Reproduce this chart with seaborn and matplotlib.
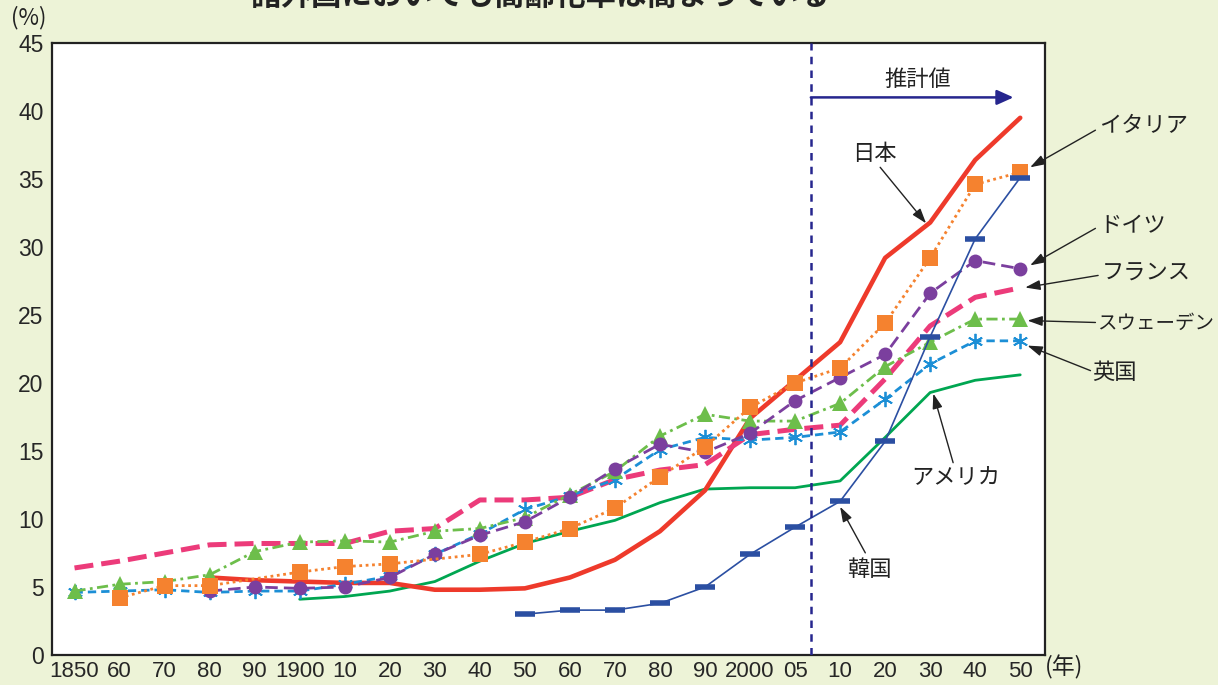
import matplotlib
matplotlib.use("Agg")
import matplotlib.pyplot as plt
import seaborn as sns
import numpy as np

sns.set_style("white")
plt.rcParams["font.family"] = ["Liberation Sans", "Noto Sans CJK JP", "DejaVu Sans"]

# 年次（横軸の区分）
years = ["1850", "60", "70", "80", "90", "1900", "10", "20", "30", "40", "50",
         "60", "70", "80", "90", "2000", "05", "10", "20", "30", "40", "50"]

# 高齢化率（%）: None はデータなし
japan = [None, None, None, 5.7, 5.5, 5.4, 5.3, 5.3, 4.8, 4.8, 4.9,
         5.7, 7.0, 9.1, 12.1, 17.4, 20.2, 23.0, 29.2, 31.8, 36.4, 39.5]
italy = [None, 4.2, 5.1, 5.1, None, 6.1, 6.5, 6.7, None, 7.4, 8.3,
         9.3, 10.8, 13.1, 15.3, 18.2, 20.0, 21.1, 24.4, 29.2, 34.6, 35.5]
germany = [None, None, None, 4.7, 5.0, 4.9, 5.0, 5.7, 7.4, 8.8, 9.8,
           11.6, 13.7, 15.5, 14.9, 16.3, 18.7, 20.4, 22.1, 26.6, 29.0, 28.4]
france = [6.4, 6.9, 7.5, 8.1, 8.2, 8.2, 8.2, 9.1, 9.3, 11.4, 11.4,
          11.6, 12.9, 13.6, 14.0, 16.2, 16.6, 16.9, 20.3, 24.2, 26.3, 27.0]
sweden = [4.7, 5.2, 5.4, 5.9, 7.6, 8.3, 8.4, 8.3, 9.1, 9.3, 10.1,
          11.8, 13.5, 16.1, 17.7, 17.2, 17.2, 18.5, 21.2, 23.0, 24.7, 24.7]
uk = [4.6, 4.7, 4.8, 4.6, 4.7, 4.7, 5.2, 5.8, 7.4, 8.9, 10.7,
      11.7, 12.9, 15.1, 16.0, 15.8, 16.0, 16.4, 18.8, 21.4, 23.1, 23.1]
usa = [None, None, None, None, None, 4.1, 4.3, 4.7, 5.4, 6.9, 8.2,
       9.1, 9.9, 11.2, 12.2, 12.3, 12.3, 12.8, 16.0, 19.3, 20.2, 20.6]
korea = [None, None, None, None, None, None, None, None, None, None, 3.0,
         3.3, 3.3, 3.8, 5.0, 7.4, 9.4, 11.3, 15.7, 23.4, 30.6, 35.1]

positions = np.arange(len(years))


def valid(values):
    xs = [p for p, v in zip(positions, values) if v is not None]
    ys = [v for v in values if v is not None]
    return xs, ys


bg = "#EDF3D7"
fig = plt.figure(figsize=(12.18, 6.85), dpi=100, facecolor=bg)
ax = fig.add_axes([52 / 1218, 1 - 655 / 685, (1045 - 52) / 1218, (655 - 43) / 685])
ax.set_facecolor("white")

series = [
    # values, color, lw, linestyle, marker, markersize, mew, zorder
    (usa, "#00A651", 2.0, "-", None, 0, 0, 3),
    (japan, "#EE3A2B", 3.3, "-", None, 0, 0, 4),
    (france, "#EC3B7A", 3.6, (0, (3.8, 1.6)), None, 0, 0, 5),
    (uk, "#1C8FD6", 2.0, (0, (3.0, 1.8)), (6, 2, 0), 11, 1.3, 6),
    (sweden, "#6DBE4B", 2.0, (0, (4.0, 1.6, 1.0, 1.6)), "^", 11, 0, 7),
    (germany, "#7B3F9E", 2.0, (0, (4.5, 2.2)), "o", 10, 0, 8),
    (italy, "#F5822F", 2.0, (0, (1.0, 1.3)), "s", 11, 0, 9),
    (korea, "#2B4FA2", 1.2, "-", "_", 15, 4.0, 10),
]

for values, color, lw, ls, marker, ms, mew, z in series:
    xs, ys = valid(values)
    kws = dict(color=color, linewidth=lw, linestyle=ls, zorder=z, legend=False, ax=ax)
    if marker is not None:
        kws.update(marker=marker, markersize=ms, markeredgewidth=mew,
                   markeredgecolor=color, markerfacecolor=color)
    sns.lineplot(x=xs, y=ys, **kws)

ax.set_xlim(-0.5, 21.55)
ax.set_ylim(0, 45)

ax.set_xticks(positions)
ax.set_xticklabels(years, fontsize=16, fontfamily="Liberation Sans")
ax.set_xticks(positions[:-1] + 0.5, minor=True)
ax.tick_params(axis="x", which="major", length=0, pad=4)
ax.tick_params(axis="x", which="minor", direction="in", length=6, width=1.2, color="#222222")
ax.set_yticks(np.arange(0, 46, 5))
ax.set_yticklabels([str(v) for v in range(0, 46, 5)], fontsize=16.5, fontfamily="Liberation Sans")
ax.tick_params(axis="y", direction="in", length=5, width=1.2, color="#222222", pad=6)
ax.set_xlabel("")
ax.set_ylabel("")
for s in ax.spines.values():
    s.set_visible(True)
    s.set_color("#222222")
    s.set_linewidth(1.6)

# 推計値の区切り
navy = "#26268E"
ax.axvline(16.35, color=navy, linestyle=(0, (3, 2.5)), linewidth=1.8, zorder=11)
ax.annotate("", xy=(20.85, 41.0), xytext=(16.35, 41.0),
            arrowprops=dict(arrowstyle="-|>,head_length=1.0,head_width=0.45",
                            color=navy, lw=1.8, shrinkA=0, shrinkB=0))
ax.text(18.73, 42.3, "推計値", fontsize=16, ha="center", va="center",
        fontfamily=["Noto Sans CJK JP"], color="#222222")

cjk = ["Noto Sans CJK JP", "DejaVu Sans"]
labels = [
    # text, text position, arrow tail, arrow head, alignment, font size
    ("日本", (17.76, 36.9), (17.89, 35.86), (18.91, 31.74), "center", 16),
    ("イタリア", (22.75, 38.95), (22.67, 38.59), (21.22, 35.86), "left", 16),
    ("ドイツ", (22.75, 31.59), (22.67, 31.37), (21.22, 28.65), "left", 16),
    ("フランス", (22.8, 28.06), (22.73, 27.91), (21.11, 27.02), "left", 16),
    ("スウェーデン", (22.7, 24.37), (22.67, 24.45), (21.16, 24.59), "left", 14),
    ("英国", (22.6, 20.77), (22.56, 20.91), (21.16, 22.75), "left", 16),
    ("アメリカ", (19.56, 13.03), (19.51, 14.14), (19.07, 19.22), "center", 16),
    ("韓国", (17.64, 6.26), (17.56, 7.51), (17.0, 10.9), "center", 16),
]
for text, tpos, tail, head, ha, fs in labels:
    ax.text(tpos[0], tpos[1], text, fontsize=fs, ha=ha, va="center",
            fontfamily=cjk, color="#222222", clip_on=False)
    ax.annotate("", xy=head, xytext=tail, annotation_clip=False,
                arrowprops=dict(arrowstyle="-|>,head_length=0.9,head_width=0.3",
                                color="#222222", lw=1.0, shrinkA=0, shrinkB=0))

fig.text(29 / 1218, 1 - 18 / 685, "(%)", fontsize=16, ha="center", va="center",
         fontfamily=cjk, color="#222222")
fig.text(1064 / 1218, 1 - 667 / 685, "(年)", fontsize=16.5, ha="center", va="center",
         fontfamily=cjk, color="#222222")
fig.text(540 / 1218, 1 + 4 / 685, "諸外国においても高齢化率は高まっている", fontsize=22,
         fontweight="bold", ha="center", va="center", fontfamily=cjk, color="#222222")

fig.savefig("out.png", dpi=100, facecolor=bg)
